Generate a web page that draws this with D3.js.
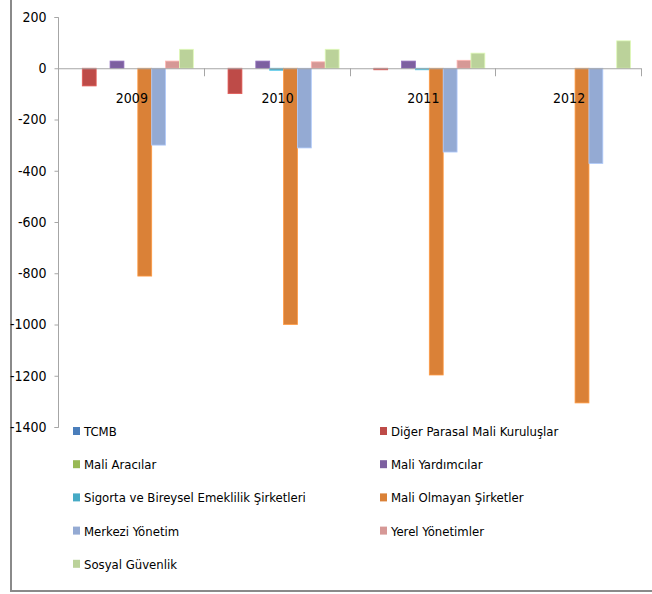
<!DOCTYPE html>
<html>
<head>
<meta charset="utf-8">
<script src="https://cdn.jsdelivr.net/npm/d3@7"></script>
<style>
  body { margin: 0; background: #fff; }
  svg text { font-family: "DejaVu Sans Condensed", "Liberation Sans Narrow", sans-serif; font-stretch: condensed; fill: #000; }
</style>
</head>
<body>
<script>
//chart values
var years = ["2009", "2010", "2011", "2012"];
var seriesNames = ["TCMB", "Diğer Parasal Mali Kuruluşlar", "Mali Aracılar", "Mali Yardımcılar",
    "Sigorta ve Bireysel Emeklilik Şirketleri", "Mali Olmayan Şirketler", "Merkezi Yönetim",
    "Yerel Yönetimler", "Sosyal Güvenlik"];
var tcmb = [0, 0, 0, 0];
var digerParasal = [-69, -99, -6, 0];
var maliAracilar = [0, 0, 0, 0];
var maliYardimcilar = [28, 28, 28, 0];
var sigorta = [0, -8, -6, 0];
var maliOlmayan = [-811, -1000, -1197, -1306];
var merkeziYonetim = [-300, -311, -327, -372];
var yerelYonetimler = [28, 25, 31, 0];
var sosyalGuvenlik = [74, 74, 59, 107];
var yTicks = [200, 0, -200, -400, -600, -800, -1000, -1200, -1400];
var colors = ["#4A7EBB", "#BE4B48", "#98B954", "#7D60A0", "#46AAC5", "#DA8137", "#94AAD3", "#D69896", "#BBD29A"];

var allSeries = [tcmb, digerParasal, maliAracilar, maliYardimcilar, sigorta,
    maliOlmayan, merkeziYonetim, yerelYonetimler, sosyalGuvenlik];

window.onload = drawChart();

function drawChart(){
    var width = 652,
        height = 594;

    var svg = d3.select("body")
        .append("svg")
        .attr("width", width)
        .attr("height", height);

    //outer frame (only left and bottom edges show)
    svg.append("line")
        .attr("x1", 11).attr("x2", 11).attr("y1", 0).attr("y2", 591)
        .attr("stroke", "#8a8a8a").attr("stroke-width", 2);
    svg.append("line")
        .attr("x1", 10).attr("x2", width).attr("y1", 591).attr("y2", 591)
        .attr("stroke", "#8a8a8a").attr("stroke-width", 2);

    //scales
    var y = d3.scaleLinear()
        .domain([-1400, 200])
        .range([427, 17]);

    var x0 = d3.scaleBand()
        .domain(years)
        .range([58, 641])
        .paddingInner(0);

    var x1 = d3.scaleBand()
        .domain(d3.range(seriesNames.length))
        .range([0, x0.bandwidth()])
        .paddingInner(0)
        .paddingOuter(0.75);

    //y axis (plain hyphen minus, no thousands separator)
    var yAxis = d3.axisLeft(y)
        .tickValues(yTicks)
        .tickFormat(function(d){ return String(d); })
        .tickSize(4)
        .tickPadding(8);
    var yg = svg.append("g")
        .attr("transform", "translate(58.5,0)")
        .call(yAxis);
    yg.select(".domain").attr("stroke", "#a6a6a6").attr("d", "M-4,17.5H0V427.5H-4");
    yg.selectAll(".tick line").attr("stroke", "#a6a6a6");
    yg.selectAll(".tick text")
        .style("font-size", "14px")
        .attr("fill", "#000");

    //bars
    var groups = svg.selectAll(".year")
        .data(years)
        .enter()
        .append("g")
        .attr("class", "year")
        .attr("transform", function(d){ return "translate(" + x0(d) + ",0)"; });

    groups.selectAll("rect")
        .data(function(d, i){
            return allSeries.map(function(s, k){ return {k: k, v: s[i]}; });
        })
        .enter()
        .append("rect")
        .attr("x", function(d){ return x1(d.k); })
        .attr("width", x1.bandwidth())
        .attr("y", function(d){ return y(Math.max(0, d.v)); })
        .attr("height", function(d){ return Math.abs(y(d.v) - y(0)); })
        .attr("fill", function(d){ return colors[d.k]; })
        .attr("stroke", function(d){ return d3.color(colors[d.k]).brighter(0.5); })
        .attr("stroke-width", 0.8);

    //x axis line at zero with category ticks
    svg.append("line")
        .attr("x1", 58).attr("x2", 641)
        .attr("y1", y(0) + 0.5).attr("y2", y(0) + 0.5)
        .attr("stroke", "#a6a6a6");
    var bounds = years.map(function(d){ return x0(d); }).concat([641]);
    svg.selectAll(".cattick")
        .data(bounds)
        .enter()
        .append("line")
        .attr("class", "cattick")
        .attr("x1", function(d){ return Math.round(d) + 0.5; })
        .attr("x2", function(d){ return Math.round(d) + 0.5; })
        .attr("y1", y(0)).attr("y2", y(0) + 8)
        .attr("stroke", "#a6a6a6");

    //year labels
    svg.selectAll(".yearLabel")
        .data(years)
        .enter()
        .append("text")
        .attr("class", "yearLabel")
        .attr("x", function(d){ return x0(d) + x0.bandwidth() / 2 + 1; })
        .attr("y", 103)
        .attr("text-anchor", "middle")
        .style("font-size", "14px")
        .text(function(d){ return d; });

    //legend: two columns
    var legend = svg.selectAll(".legend")
        .data(seriesNames)
        .enter()
        .append("g")
        .attr("class", "legend")
        .attr("transform", function(d, i){
            var col = i % 2, row = Math.floor(i / 2);
            return "translate(" + (col === 0 ? 73 : 380) + "," + (431 + row * 33.2) + ")";
        });
    legend.append("rect")
        .attr("x", 0).attr("y", -4)
        .attr("width", 7).attr("height", 8)
        .attr("fill", function(d, i){ return colors[i]; });
    legend.append("text")
        .attr("x", 11)
        .attr("y", 5)
        .style("font-size", "13px")
        .text(function(d){ return d; });
}
</script>
</body>
</html>
